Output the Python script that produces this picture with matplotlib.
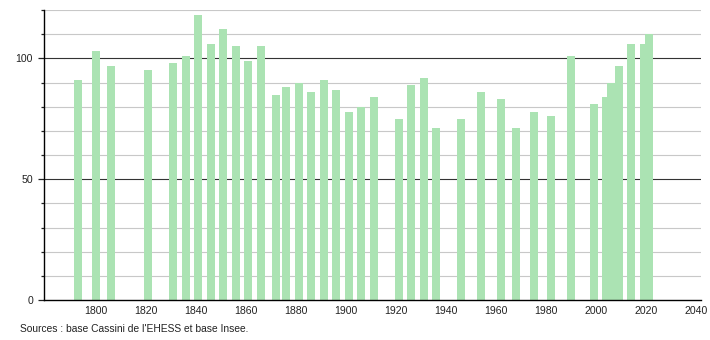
import matplotlib
matplotlib.use("Agg")
import matplotlib.pyplot as plt
import numpy as np

years = [1793, 1800, 1806, 1821, 1831, 1836, 1841, 1846, 1851, 1856, 1861, 1866,
         1872, 1876, 1881, 1886, 1891, 1896, 1901, 1906, 1911, 1921, 1926, 1931,
         1936, 1946, 1954, 1962, 1968, 1975, 1982, 1990, 1999, 2004, 2006, 2009,
         2014, 2019, 2021]
population = [91, 103, 97, 95, 98, 101, 118, 106, 112, 105, 99, 105,
              85, 88, 90, 86, 91, 87, 78, 80, 84, 75, 89, 92,
              71, 75, 86, 83, 71, 78, 76, 101, 81, 84, 90, 97,
              106, 106, 110]
x_ticks = list(range(1800, 2041, 20))
y_labels = [0, 50, 100]

plt.rcParams['font.family'] = ['Liberation Sans', 'DejaVu Sans']

fig = plt.figure(figsize=(7.1, 3.4), dpi=100)
ax = fig.add_axes([44 / 710, 40 / 340, (700.7 - 44) / 710, 290 / 340])

# grid lines: light every 10, dark at 50 and 100
for v in range(10, 121, 10):
    if v in (50, 100):
        ax.axhline(v, color="#333333", linewidth=0.8, zorder=1)
    else:
        ax.axhline(v, color="#c8c8c8", linewidth=0.8, zorder=1)

ax.bar(years, population, width=3.2, color="#abe3b3", zorder=2, linewidth=0)

ax.set_xlim(1779.3, 2041.7)
ax.set_ylim(0, 120)

ax.set_xticks(x_ticks)
ax.set_xticklabels([str(t) for t in x_ticks])
ax.set_yticks(y_labels)
ax.set_yticks(range(0, 121, 10), minor=True)
ax.tick_params(axis="x", length=0, pad=4, labelsize=7.6, colors="#222222")
ax.tick_params(axis="y", which="major", length=4, width=0.9, pad=4, labelsize=7.6, colors="#222222")
ax.tick_params(axis="y", which="minor", length=2.2, width=0.9, color="#222222")

for side in ("top", "right"):
    ax.spines[side].set_visible(False)
ax.spines["left"].set_linewidth(1.0)
ax.spines["bottom"].set_linewidth(1.0)

fig.text(20 / 710, 1 - 329 / 340, "Sources : base Cassini de l'EHESS et base Insee.",
         fontsize=7.4, color="#222222", va="center", ha="left")

fig.savefig("out.png", dpi=100)
